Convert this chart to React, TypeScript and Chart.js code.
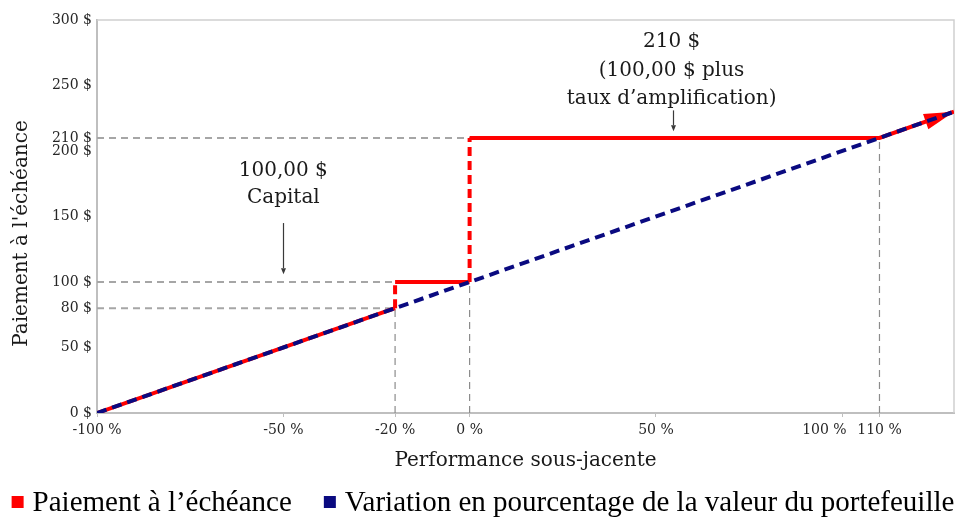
import React, { useEffect, useRef } from "react";
import { Chart, registerables } from "chart.js";

Chart.register(...registerables);

// ---- data ----
const xTicks = [-100, -50, -20, 0, 50, 100, 110];
const yTicks = [0, 50, 80, 100, 150, 200, 210, 250, 300];
const xRange = [-100, 130];
const yRange = [0, 300];

const payoffX = [-100, -20, -20, 0, 0, 110, 130];
const payoffY = [0, 80, 100, 100, 210, 210, 230];

const portfolioX = [-100, 130];
const portfolioY = [0, 230];

const guideLevels = [210, 100, 80];
const guideLevelEnds = [110, -20, -20];
const guideStrikes = [-20, 0, 110];
const guideStrikeTops = [80, 100, 210];

const capitalNote = ["100,00 $", "Capital"];
const capitalNoteX = -50;
const capitalNoteY = [185, 164];
const capitalArrowY = [145, 106];

const amplNote = ["210 $", "(100,00 $ plus", "taux d\u2019amplification)"];
const amplNoteX = 54.2;
const amplNoteY = [283, 261, 240];
const amplArrowY = [231, 215];

const seriesLabels = ["Paiement \u00e0 l\u2019\u00e9ch\u00e9ance", "Variation en pourcentage de la valeur du portefeuille"];
const xTitle = "Performance sous-jacente";
const yTitle = "Paiement \u00e0 l'\u00e9ch\u00e9ance";

// ---- styles ----
const RED = "#ff0000";
const NAVY = "#0a0a80";
const GUIDE = "#a6a6a6";
const AXIS = "#bfbfbf";
const SERIF = "'DejaVu Serif', serif";
const LEGEND_FONT = "'Liberation Serif', serif";

function drawArrow(ctx: CanvasRenderingContext2D, x0: number, y0: number, x1: number, y1: number) {
  const ang = Math.atan2(y1 - y0, x1 - x0);
  const L = 6, W = 2.5;
  ctx.beginPath();
  ctx.moveTo(x0, y0);
  ctx.lineTo(x1 - L * Math.cos(ang), y1 - L * Math.sin(ang));
  ctx.stroke();
  ctx.beginPath();
  ctx.moveTo(x1, y1);
  ctx.lineTo(x1 - L * Math.cos(ang) - W * Math.sin(ang), y1 - L * Math.sin(ang) + W * Math.cos(ang));
  ctx.lineTo(x1 - L * Math.cos(ang) + W * Math.sin(ang), y1 - L * Math.sin(ang) - W * Math.cos(ang));
  ctx.closePath();
  ctx.fill();
}

const decorPlugin = {
  id: "decor",
  beforeDatasetsDraw(chart: any) {
    const { ctx, chartArea: a } = chart;
    ctx.save();
    ctx.strokeStyle = "#cfcfcf";
    ctx.lineWidth = 1.5;
    ctx.beginPath();
    ctx.moveTo(a.left, a.top);
    ctx.lineTo(a.right, a.top);
    ctx.lineTo(a.right, a.bottom);
    ctx.stroke();
    ctx.restore();
  },
  afterDatasetDraw(chart: any, args: any) {
    if (args.index !== 1) return;
    const { ctx } = chart;
    const pts = args.meta.data;
    const a = pts[pts.length - 2];
    const b = pts[pts.length - 1];
    const ang = Math.atan2(b.y - a.y, b.x - a.x);
    const L = 30, W = 8;
    const bx = b.x - L * Math.cos(ang);
    const by = b.y - L * Math.sin(ang);
    ctx.save();
    ctx.fillStyle = RED;
    ctx.beginPath();
    ctx.moveTo(b.x, b.y);
    ctx.lineTo(bx - W * Math.sin(ang), by + W * Math.cos(ang));
    ctx.lineTo(bx + W * Math.sin(ang), by - W * Math.cos(ang));
    ctx.closePath();
    ctx.fill();
    ctx.restore();
  },
  afterDatasetsDraw(chart: any) {
    const { ctx, scales } = chart;
    const xs = scales.x, ys = scales.y;
    ctx.save();
    ctx.fillStyle = "#1a1a1a";
    ctx.font = `20px ${SERIF}`;
    ctx.textAlign = "center";
    ctx.textBaseline = "middle";
    capitalNote.forEach((t, i) => ctx.fillText(t, xs.getPixelForValue(capitalNoteX), ys.getPixelForValue(capitalNoteY[i])));
    amplNote.forEach((t, i) => ctx.fillText(t, xs.getPixelForValue(amplNoteX), ys.getPixelForValue(amplNoteY[i])));
    ctx.strokeStyle = "#3a3a3a";
    ctx.fillStyle = "#3a3a3a";
    ctx.lineWidth = 1.2;
    const cx = Math.round(xs.getPixelForValue(capitalNoteX)) + 0.5;
    drawArrow(ctx, cx, ys.getPixelForValue(capitalArrowY[0]), cx, ys.getPixelForValue(capitalArrowY[1]));
    const ax = Math.round(xs.getPixelForValue(amplNoteX + 0.5)) + 0.5;
    drawArrow(ctx, ax, ys.getPixelForValue(amplArrowY[0]), ax, ys.getPixelForValue(amplArrowY[1]));
    // y axis title
    ctx.fillStyle = "#1a1a1a";
    ctx.font = `20px ${SERIF}`;
    ctx.translate(22, (chart.chartArea.top + chart.chartArea.bottom) / 2 + 17);
    ctx.rotate(-Math.PI / 2);
    ctx.fillText(yTitle, 0, 0);
    ctx.restore();
  },
  afterDraw(chart: any) {
    const { ctx, width } = chart;
    const items = [
      { text: seriesLabels[0], color: RED },
      { text: seriesLabels[1], color: NAVY },
    ];
    ctx.save();
    ctx.font = `29px ${LEGEND_FONT}`;
    ctx.textBaseline = "alphabetic";
    ctx.textAlign = "left";
    const box = 12, gap = 9, spacing = 32;
    const widths = items.map((it) => ctx.measureText(it.text).width);
    const total = widths.reduce((s, w) => s + box + gap + w, 0) + spacing;
    let x = (width - total) / 2;
    const baseline = 511;
    items.forEach((it, i) => {
      ctx.fillStyle = it.color;
      ctx.fillRect(x, baseline - 15, box, box);
      x += box + gap;
      ctx.fillStyle = "#000";
      ctx.fillText(it.text, x, baseline);
      x += widths[i] + spacing;
    });
    ctx.restore();
  },
};

export default function App() {
  const ref = useRef<HTMLCanvasElement | null>(null);

  useEffect(() => {
    if (!ref.current) return;
    const pts = (xsArr: number[], ysArr: number[]) => xsArr.map((x, i) => ({ x, y: ysArr[i] }));
    const guideDatasets: any[] = [];
    guideLevels.forEach((lvl, i) => {
      guideDatasets.push({
        label: `guide-h-${lvl}`,
        data: pts([xRange[0], guideLevelEnds[i]], [lvl, lvl]),
        borderColor: GUIDE,
        borderWidth: 2,
        borderDash: [7, 5],
        pointRadius: 0,
      });
    });
    guideStrikes.forEach((s, i) => {
      guideDatasets.push({
        label: `guide-v-${s}`,
        data: pts([s, s], [yRange[0], guideStrikeTops[i]]),
        borderColor: "#8c8c8c",
        borderWidth: 1.2,
        borderDash: [7, 5],
        pointRadius: 0,
      });
    });

    const chart = new Chart(ref.current, {
      type: "line",
      data: {
        datasets: [
          {
            label: seriesLabels[1],
            data: pts(portfolioX, portfolioY),
            borderColor: NAVY,
            borderWidth: 4,
            borderDash: [10, 6],
            pointRadius: 0,
          },
          {
            label: seriesLabels[0],
            data: pts(payoffX, payoffY),
            borderColor: RED,
            borderWidth: 4,
            pointRadius: 0,
            segment: {
              borderDash: (c: any) => (c.p0.parsed.x === c.p1.parsed.x ? [9, 5] : undefined),
            },
          },
          ...guideDatasets,
        ],
      },
      options: {
        animation: false,
        responsive: false,
        events: [],
        layout: { padding: { left: 0, top: 20, right: 12, bottom: 44 } },
        plugins: { legend: { display: false }, tooltip: { enabled: false } },
        elements: { line: { tension: 0, fill: false } },
        scales: {
          x: {
            type: "linear",
            min: xRange[0],
            max: xRange[1],
            afterBuildTicks: (s: any) => {
              s.ticks = xTicks.map((v) => ({ value: v }));
            },
            afterFit: (s: any) => {
              s.height = 60;
            },
            ticks: {
              autoSkip: false,
              maxRotation: 0,
              padding: 5,
              color: "#262626",
              font: { family: SERIF, size: 14 },
              callback: (v: any) => (v === 100 ? `${v} %` + "\u00a0".repeat(8) : `${v} %`),
            },
            grid: { drawOnChartArea: false, drawTicks: true, tickLength: 4, color: AXIS },
            border: { color: AXIS, width: 2 },
            title: {
              display: true,
              text: xTitle,
              color: "#1a1a1a",
              font: { family: SERIF, size: 20 },
              padding: { top: 4, bottom: 0 },
            },
          },
          y: {
            type: "linear",
            min: yRange[0],
            max: yRange[1],
            afterBuildTicks: (s: any) => {
              s.ticks = yTicks.map((v) => ({ value: v }));
            },
            afterFit: (s: any) => {
              s.width = 97;
            },
            ticks: {
              autoSkip: false,
              padding: 5,
              color: "#262626",
              font: { family: SERIF, size: 14 },
              callback: (v: any) => `${v} $`,
            },
            grid: { drawOnChartArea: false, drawTicks: false, color: AXIS },
            border: { color: AXIS, width: 2 },
          },
        },
      },
      plugins: [decorPlugin],
    } as any);
    return () => chart.destroy();
  }, []);

  return (
    <div style={{ position: "fixed", left: 0, top: 0, width: 966, height: 517, background: "#fff" }}>
      <canvas ref={ref} width={966} height={517} style={{ display: "block" }} />
    </div>
  );
}
